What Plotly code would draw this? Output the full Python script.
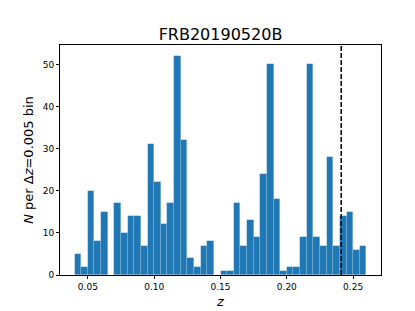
import plotly.graph_objects as go

# histogram of z, bins of 0.005 starting at 0.04
bin_start = 0.04
bin_width = 0.005
counts = [5, 2, 20, 8, 15, 0, 17, 10, 14, 14, 7, 31, 22, 12, 17, 52, 32, 4, 2, 7, 8,
          0,
          1, 1, 17, 7, 13, 9, 24, 50, 18, 1, 2, 2, 9, 50, 9, 7, 28, 7, 14, 15, 6, 7]
z_frb = 0.241

centers = [bin_start + bin_width * (i + 0.5) for i in range(len(counts))]

font = "DejaVu Sans"

fig = go.Figure()
fig.add_trace(go.Bar(
    x=centers,
    y=counts,
    width=bin_width,
    marker=dict(color="#1f77b4", line=dict(width=0.6, color="rgba(255,255,255,0.2)")),
    showlegend=False,
))

fig.add_shape(type="line", x0=z_frb, x1=z_frb, y0=0, y1=1, yref="paper",
              line=dict(color="black", width=1.5, dash="5px,2px"))

fig.update_layout(
    width=415, height=311,
    margin=dict(l=52, r=42, t=37, b=34),
    paper_bgcolor="white", plot_bgcolor="white",
    bargap=0,
    font=dict(family=font, color="black", size=9),
    title=dict(text="FRB20190520B", x=0.5, xanchor="center", y=1 - 26 / 311, yanchor="middle",
               xref="paper", font=dict(size=16, family=font)),
)
fig.update_xaxes(
    range=[0.029, 0.271],
    tickvals=[0.05, 0.10, 0.15, 0.20, 0.25],
    ticktext=["0.05", "0.10", "0.15", "0.20", "0.25"],
    ticks="outside", ticklen=3, tickcolor="black",
    showline=True, linecolor="black", linewidth=0.8, mirror=True,
    showgrid=False, zeroline=False,
    title=dict(text="<i>z</i>", font=dict(size=13), standoff=6),
)
fig.update_yaxes(
    range=[0, 54.6],
    tickvals=[0, 10, 20, 30, 40, 50],
    ticks="outside", ticklen=3, tickcolor="black",
    showline=True, linecolor="black", linewidth=0.8, mirror=True,
    showgrid=False, zeroline=False,
    title=dict(text="<i>N</i> per Δ<i>z</i>=0.005 bin", font=dict(size=13), standoff=6),
)

fig.write_html("out.html")
